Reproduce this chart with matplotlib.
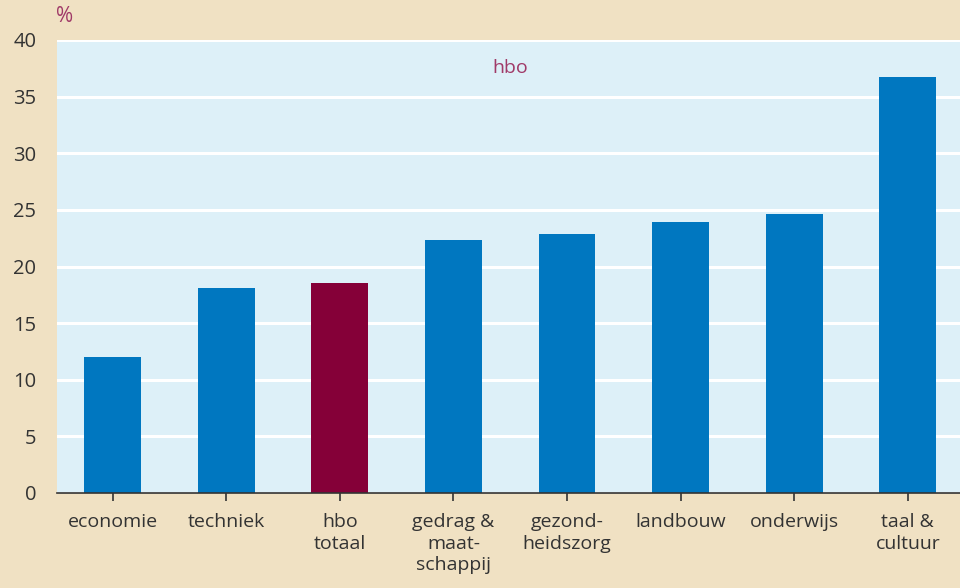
import matplotlib
matplotlib.use('Agg')
import matplotlib.pyplot as plt

categories = ['economie', 'techniek', 'hbo\ntotaal', 'gedrag &\nmaat-\nschappij',
              'gezond-\nheidszorg', 'landbouw', 'onderwijs', 'taal &\ncultuur']
values = [12.0, 18.1, 18.5, 22.3, 22.9, 23.9, 24.6, 36.7]
highlight = 'hbo\ntotaal'
yticks = [0, 5, 10, 15, 20, 25, 30, 35, 40]

bg = '#F0E1C3'
plotbg = '#DDF0F8'
blue = '#0077C0'
maroon = '#850038'
textcol = '#333333'
accent = '#A03A68'

plt.rcParams['font.family'] = ['Open Sans', 'DejaVu Sans']

fig = plt.figure(figsize=(9.6, 5.88), dpi=100, facecolor=bg)
ax = fig.add_axes([57/960, 1-493/588, 903/960, 453/588])
ax.set_facecolor(plotbg)

x = list(range(len(categories)))
cols = [maroon if c == highlight else blue for c in categories]
ax.bar(x, values, width=0.5, color=cols, zorder=3)

ax.set_ylim(0, 40)
ax.set_xlim(-0.49, 7.46)
ax.set_yticks(yticks)
ax.yaxis.grid(True, color='white', linewidth=2.2, zorder=1)
ax.set_axisbelow(True)
ax.tick_params(axis='y', length=0, pad=15, labelsize=14.5, labelcolor=textcol)
ax.set_xticks(x)
ax.set_xticklabels(categories, fontsize=14, color=textcol, linespacing=1.25)
ax.tick_params(axis='x', direction='inout', length=11, width=1.2, color=textcol, pad=9)
for lab in ax.get_yticklabels():
    lab.set_horizontalalignment('right')

for s in ['top', 'right', 'left']:
    ax.spines[s].set_visible(False)
ax.spines['bottom'].set_color(textcol)
ax.spines['bottom'].set_linewidth(1.2)
ax.spines['bottom'].set_zorder(4)

ax.text(3.5, 37.5, 'hbo', ha='center', va='center', fontsize=14, color=accent)
fig.text(65/960, 1-16/588, '%', ha='center', va='center', fontsize=15, color=accent)

fig.savefig('out.png', dpi=100, facecolor=bg)
